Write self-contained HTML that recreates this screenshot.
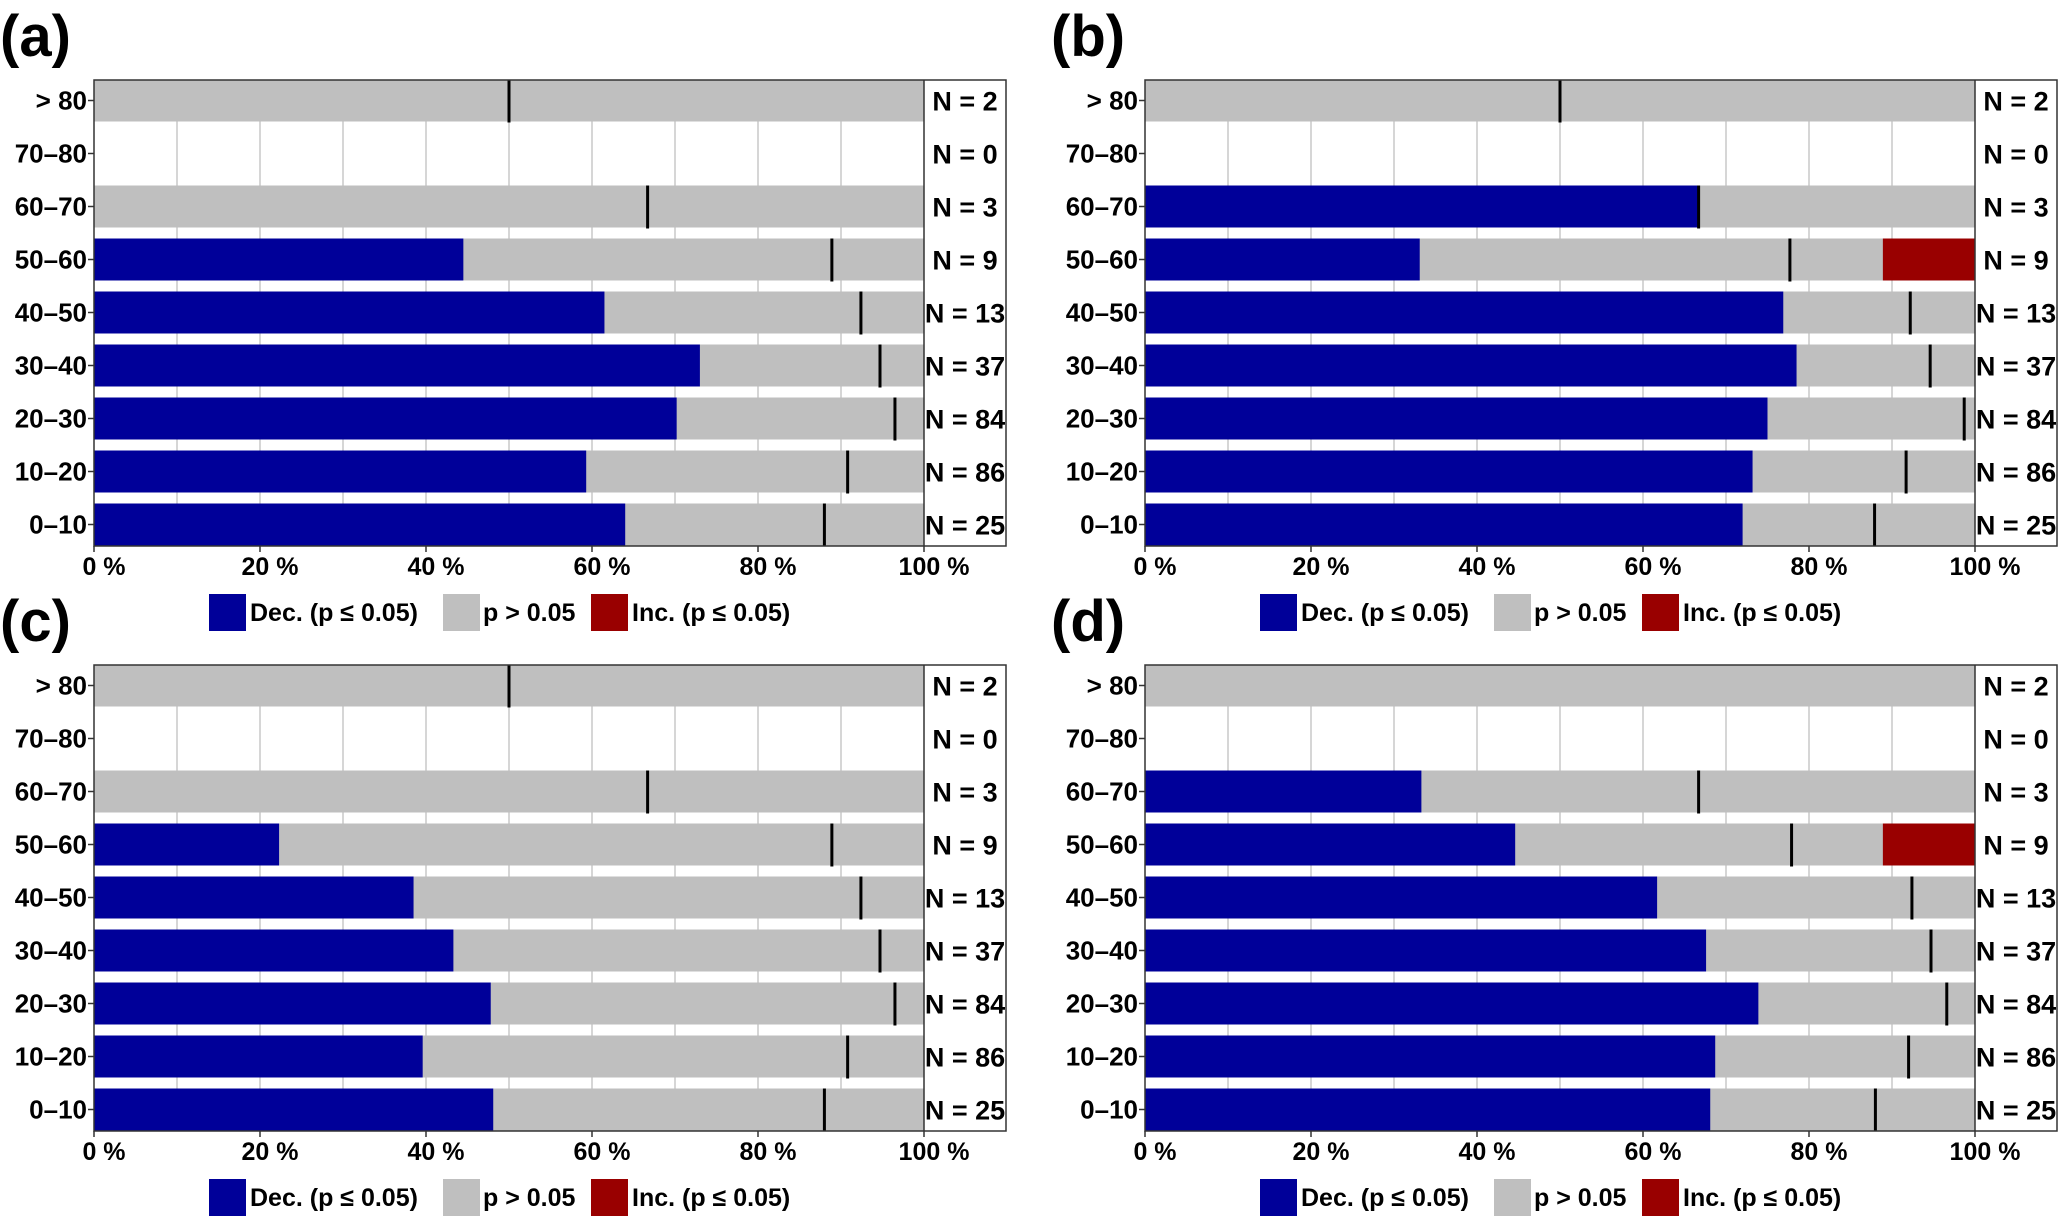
<!DOCTYPE html>
<html><head><meta charset="utf-8"><style>
html,body{margin:0;padding:0;background:#fff;}
svg{display:block;font-family:"Liberation Sans",Arial,sans-serif;font-weight:bold;}
</style></head><body>
<svg id="fig" width="2067" height="1218" viewBox="0 0 2067 1218" xmlns="http://www.w3.org/2000/svg"></svg>
<script>
const categories = ["0–10","10–20","20–30","30–40","40–50","50–60","60–70","70–80","> 80"];
const counts = [25,86,84,37,13,9,3,0,2];
const decA = [64,59.3,70.2,73,61.5,44.5,0,0,0];
const incA = [0,0,0,0,0,0,0,0,0];
const markA = [88,90.8,96.5,94.7,92.4,88.9,66.7,null,50];
const decB = [72,73.2,75,78.5,76.9,33.1,66.7,0,0];
const incB = [0,0,0,0,0,11.1,0,0,0];
const markB = [87.9,91.7,98.7,94.6,92.2,77.7,66.7,null,50];
const decC = [48.1,39.6,47.8,43.3,38.5,22.3,0,0,0];
const incC = [0,0,0,0,0,0,0,0,0];
const markC = [88,90.8,96.5,94.7,92.4,88.9,66.7,null,50];
const decD = [68.1,68.7,73.9,67.6,61.7,44.6,33.3,0,0];
const incD = [0,0,0,0,0,11.1,0,0,0];
const markD = [88,92,96.6,94.7,92.4,77.9,66.7,null,null];
const xTicks = [0,20,40,60,80,100];
const xTickLabels = ["0 %","20 %","40 %","60 %","80 %","100 %"];
const panelLabels = ["(a)","(b)","(c)","(d)"];

const NS="http://www.w3.org/2000/svg";
const svg=document.getElementById('fig');
function mk(tag,attrs,parent,txt){const e=document.createElementNS(NS,tag);for(const k in attrs)e.setAttribute(k,attrs[k]);if(txt!==undefined)e.textContent=txt;parent.appendChild(e);return e;}

const panels=[{dec:decA,inc:incA,mark:markA,ox:0,oy:0},{dec:decB,inc:incB,mark:markB,ox:1051,oy:0},{dec:decC,inc:incC,mark:markC,ox:0,oy:585},{dec:decD,inc:incD,mark:markD,ox:1051,oy:585}];
const BLUE="#000099",GRAY="#bfbfbf",RED="#990000";

panels.forEach((p,pi)=>{
  const g=mk('g',{transform:`translate(${p.ox},${p.oy})`},svg);
  
  
  const L=94,R=924,BR=1006,T=80,B=546;
  const xs=v=>L+(R-L)*v/100;
  const yc=i=>524.5-i*53;
  const bh=42;
  const lab=mk('text',{x:0,y:56,'font-size':58},g,panelLabels[pi]);
  
  
  for(let v=10;v<=90;v+=10){const gl=mk('line',{x1:xs(v),x2:xs(v),y1:T,y2:B,stroke:"#c8c8c8","stroke-width":1.5},g);
    }
  categories.forEach((c,i)=>{
    const y=yc(i);
    if(counts[i]>0){
      const d=p.dec[i],inc=p.inc[i];
      const bg=mk('rect',{x:xs(0),y:y-bh/2,width:xs(100)-xs(0),height:bh,fill:GRAY},g);
      
      if(d>0){const r=mk('rect',{x:xs(0),y:y-bh/2,width:xs(d)-xs(0),height:bh,fill:BLUE},g);
        }
      if(inc>0){const r=mk('rect',{x:xs(100-inc),y:y-bh/2,width:xs(100)-xs(100-inc),height:bh,fill:RED},g);
        }
      if(p.mark[i]!=null){const m=mk('line',{x1:xs(p.mark[i]),x2:xs(p.mark[i]),y1:y-bh/2,y2:y+bh/2+1,stroke:"#000","stroke-width":3},g);
        }
    }
    const t=mk('text',{x:87,y:y,'font-size':26,'text-anchor':'end','dominant-baseline':'central'},g,c);
    
    const tk=mk('line',{x1:L-6,x2:L,y1:y,y2:y,stroke:"#333","stroke-width":1.5},g);
    
    const n=mk('text',{x:(R+BR)/2,y:y+1,'font-size':27,'text-anchor':'middle','dominant-baseline':'central'},g,'N = '+counts[i]);
    
  });
  const fr=mk('rect',{x:L,y:T,width:BR-L,height:B-T,fill:"none",stroke:"#333","stroke-width":1.5},g);
  
  const dv=mk('line',{x1:R,x2:R,y1:T,y2:B,stroke:"#333","stroke-width":1.5},g);
  
  xTicks.forEach((v,k)=>{
    const tk=mk('line',{x1:xs(v),x2:xs(v),y1:B,y2:B+6,stroke:"#333","stroke-width":1.5},g);
    
    const t=mk('text',{x:xs(v)+10,y:567,'font-size':25,'text-anchor':'middle','dominant-baseline':'central'},g,xTickLabels[k]);
    
  });
  const leg=mk('g',{},g);
  
  const items=[[209,BLUE,250,"Dec. (p ≤ 0.05)"],[443,GRAY,483,"p > 0.05"],[591,RED,632,"Inc. (p ≤ 0.05)"]];
  items.forEach(it=>{
    const s=mk('rect',{x:it[0],y:594,width:37,height:37,fill:it[1]},leg);
    
    const t=mk('text',{x:it[2],y:613,'font-size':25,'dominant-baseline':'central'},leg,it[3]);
    
  });
});
</script>
</body></html>
